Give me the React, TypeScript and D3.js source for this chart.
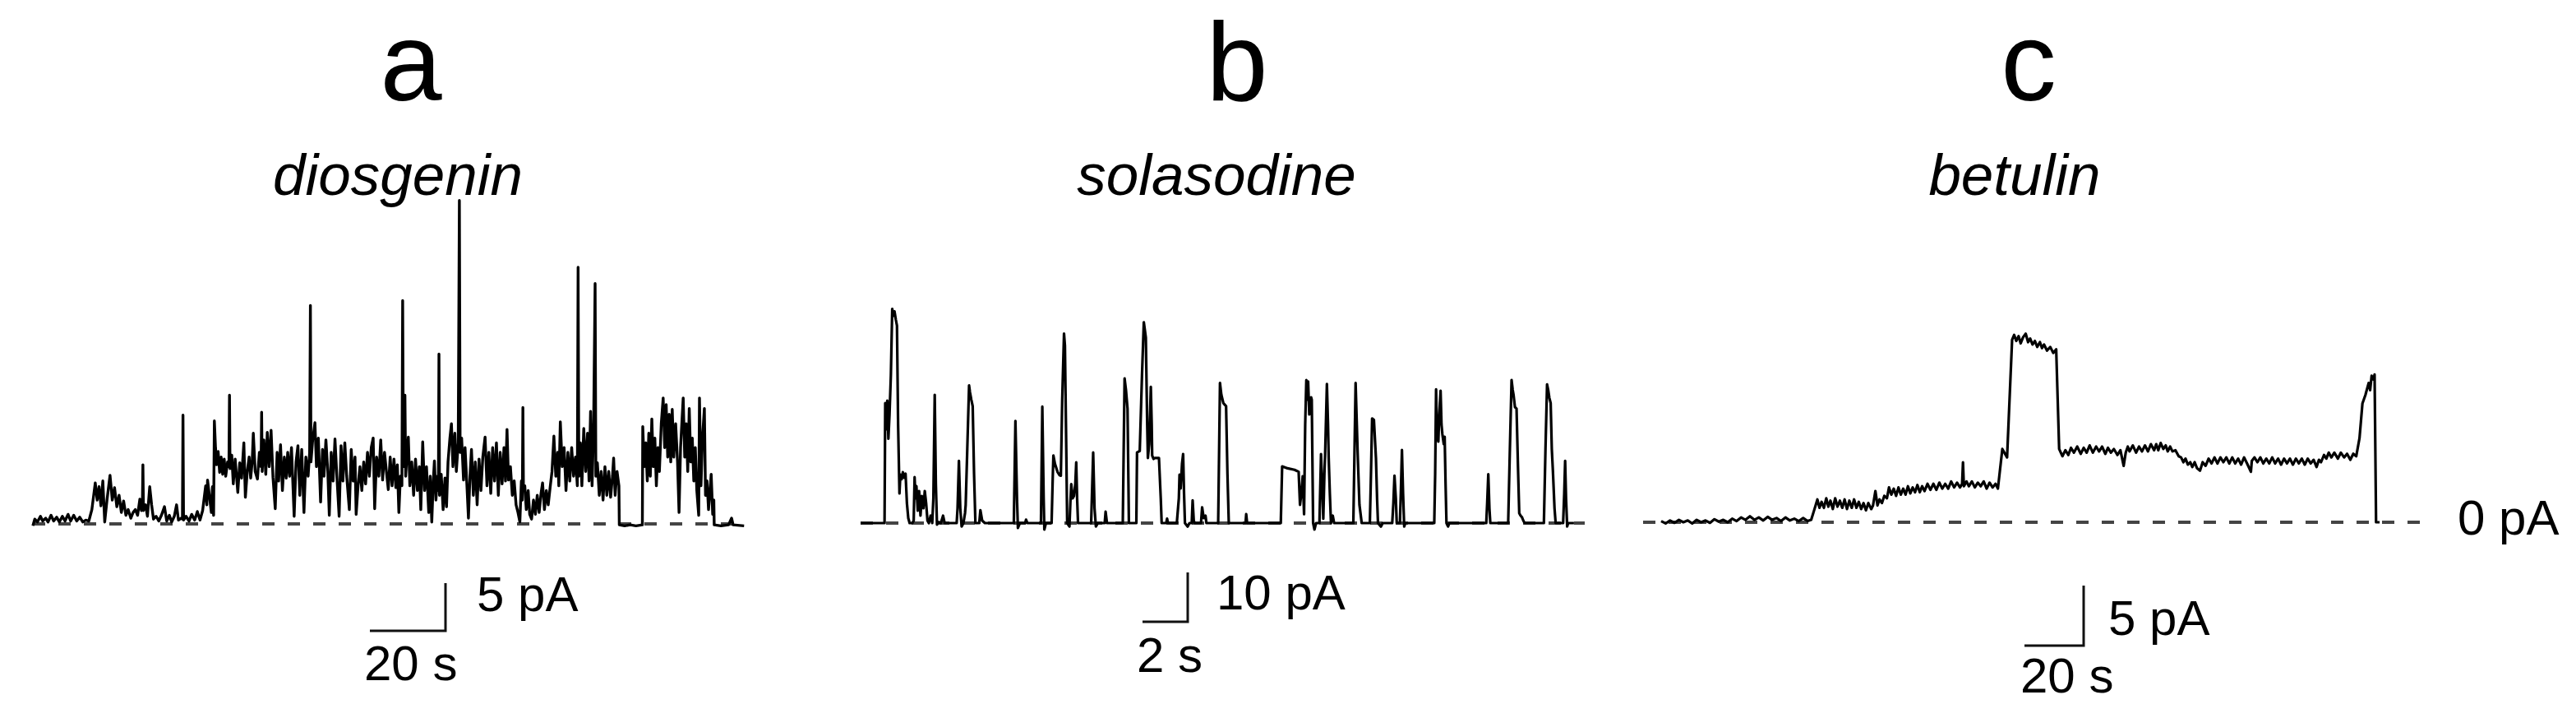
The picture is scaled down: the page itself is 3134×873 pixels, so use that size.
import React from "react";
import * as d3 from "d3";

const width = 3134;
const height = 873;

// traces: [time (s), current (pA)]
const diosgeninTrace: [number, number][] = [
  [0, -0.2], [0.5, 0.5], [1.2, 0.2], [2, 0.8], [2.6, 0.3], [3.4, 0.6], [4, 0.2], [4.8, 0.9], [5.5, 0.3],
  [6.3, 0.7], [7, 0.2], [7.8, 0.8], [8.5, 0.3], [9.3, 1.0], [10, 0.3], [10.8, 0.9], [11.6, 0.3], [12.4, 0.7],
  [13.2, 0.2], [14, 0.4], [14.8, 0.3], [15.6, 1.5], [16.5, 4.3], [17.0, 2.5], [17.5, 3.9], [18.0, 1.9],
  [18.5, 4.5], [19.0, 0.2], [19.6, 2.5], [20.4, 5.1], [21.0, 2.5], [21.6, 3.8], [22.2, 1.8], [22.8, 3.0],
  [23.4, 1.2], [24.0, 2.4], [24.6, 0.9], [25.2, 1.5], [25.9, 0.6], [26.5, 1.2], [27.1, 1.5], [27.7, 0.9],
  [28.3, 2.6], [28.7, 1.4], [28.95, 1.6], [29.1, 6.2], [29.25, 1.4], [29.8, 2.0], [30.3, 0.8], [30.9, 3.9],
  [31.4, 2.0], [31.9, 0.5], [32.6, 0.8], [33.3, 0.3], [34.0, 0.9], [34.8, 1.8], [35.4, 0.3], [36.1, 0.9],
  [36.7, 0.2], [37.4, 0.8], [38.0, 2.0], [38.5, 0.4], [39.2, 0.6], [39.55, 0.5], [39.7, 11.4], [39.85, 0.4],
  [40.5, 0.8], [41.3, 0.3], [42.0, 1.0], [42.8, 0.4], [43.5, 1.3], [44.2, 0.4], [44.9, 1.4], [45.7, 4.0],
  [46.0, 2.0], [46.2, 4.6], [46.7, 2.9], [47.2, 1.2], [47.5, 3.9], [47.8, 0.9], [48.0, 10.8], [48.3, 8.0],
  [48.6, 6.2], [49.0, 7.6], [49.4, 5.4], [49.8, 7.0], [50.2, 5.2], [50.6, 6.8], [51.0, 5.0], [51.5, 6.5],
  [51.85, 6.0], [52.0, 13.5], [52.15, 5.8], [52.6, 7.2], [53.0, 4.2], [53.5, 6.8], [54.2, 3.3], [54.7, 6.4],
  [55.2, 4.8], [55.8, 8.5], [56.2, 2.8], [56.7, 5.5], [57.2, 7.0], [57.6, 4.8], [58.0, 6.5], [58.3, 9.5],
  [58.8, 5.5], [59.4, 4.7], [59.9, 7.5], [60.35, 6.0], [60.5, 11.7], [60.65, 5.5], [61.1, 8.8], [61.6, 5.2],
  [62.0, 9.6], [62.5, 6.0], [63.0, 9.8], [63.5, 4.9], [64.1, 1.6], [64.6, 7.5], [65.0, 4.5], [65.5, 8.3],
  [66.0, 3.5], [66.5, 7.0], [67.0, 4.8], [67.4, 7.5], [67.9, 5.0], [68.4, 8.0], [69.1, 0.8], [69.6, 6.5],
  [70.1, 8.2], [70.6, 3.0], [71.1, 7.8], [71.7, 1.2], [72.2, 7.0], [72.8, 5.0], [73.2, 7.5], [73.4, 22.9],
  [73.55, 6.5], [74.0, 8.8], [74.6, 10.6], [75.0, 6.0], [75.5, 9.0], [76.1, 2.3], [76.6, 7.8], [77.0, 5.0],
  [77.5, 8.8], [78.0, 5.5], [78.4, 0.9], [78.9, 7.5], [79.4, 4.5], [79.9, 8.9], [80.4, 5.0], [81.0, 0.8],
  [81.5, 8.2], [82.0, 4.5], [82.5, 8.5], [83.0, 5.0], [83.7, 1.5], [84.2, 7.8], [84.7, 4.5], [85.2, 7.0],
  [85.5, 1.0], [86.0, 4.0], [86.5, 6.0], [87.0, 3.5], [87.5, 6.5], [88.0, 4.2], [88.5, 7.5], [89.0, 5.0],
  [89.5, 8.0], [90.0, 9.0], [90.4, 1.6], [90.9, 7.0], [91.5, 5.0], [92.0, 8.8], [92.5, 4.6], [93.0, 7.5],
  [93.5, 5.5], [94.0, 3.6], [94.5, 7.0], [95.0, 4.0], [95.5, 6.8], [96.0, 3.8], [96.4, 6.2], [96.8, 1.2],
  [97.2, 5.0], [97.6, 4.0], [97.8, 23.4], [98.0, 6.0], [98.4, 13.5], [98.6, 5.0], [98.9, 7.0], [99.3, 9.1],
  [99.7, 4.0], [100.2, 6.5], [100.7, 3.0], [101.2, 6.8], [101.7, 3.5], [102.2, 6.0], [102.6, 1.5], [103.1, 8.6],
  [103.6, 3.5], [104.1, 6.0], [104.7, 1.2], [105.1, 5.0], [105.5, 0.2], [105.9, 4.5], [106.2, 6.6], [106.6, 2.5],
  [107.0, 5.0], [107.25, 3.5], [107.4, 17.8], [107.55, 3.0], [108.0, 5.2], [108.5, 1.5], [109.0, 4.8],
  [109.4, 1.8], [109.8, 6.5], [110.3, 9.0], [110.7, 10.5], [111.1, 6.0], [111.6, 9.5], [112.0, 5.5],
  [112.5, 8.5], [112.8, 33.9], [113.0, 7.5], [113.4, 9.0], [113.9, 4.6], [114.3, 8.0], [114.8, 4.0],
  [115.2, 0.6], [115.6, 5.0], [116.0, 7.8], [116.5, 3.0], [117.0, 6.5], [117.5, 2.0], [118.0, 6.8],
  [118.5, 3.5], [119.0, 7.0], [119.6, 9.1], [120.1, 4.0], [120.6, 7.5], [121.1, 3.2], [121.6, 8.0],
  [122.1, 4.5], [122.6, 8.5], [123.1, 3.0], [123.6, 7.5], [124.1, 4.2], [124.6, 8.0], [125.0, 4.5],
  [125.4, 9.9], [125.8, 4.6], [126.3, 6.0], [126.8, 3.0], [127.3, 4.5], [127.8, 2.0], [128.3, 1.2],
  [128.8, 0.2], [129.2, 4.5], [129.45, 2.5], [129.6, 12.2], [129.75, 3.5], [130.1, 4.0], [130.5, 1.5],
  [131.0, 3.5], [131.4, 1.0], [131.9, 0.5], [132.4, 2.5], [132.9, 1.0], [133.4, 3.0], [133.9, 1.2],
  [134.4, 3.2], [134.8, 4.3], [135.3, 1.5], [135.8, 3.5], [136.3, 2.0], [136.8, 3.8], [137.3, 5.5],
  [137.8, 9.2], [138.3, 5.0], [138.8, 7.5], [139.1, 4.0], [139.5, 10.7], [140.0, 6.0], [140.5, 8.0],
  [141.0, 3.5], [141.5, 7.5], [142.0, 4.5], [142.5, 8.0], [143.0, 5.0], [143.5, 7.0], [144.0, 4.0],
  [144.2, 26.9], [144.4, 5.0], [144.8, 8.5], [145.2, 4.0], [145.7, 10.0], [146.2, 5.5], [146.7, 9.5],
  [147.1, 4.5], [147.5, 11.8], [147.9, 4.0], [148.3, 10.0], [148.7, 25.2], [148.9, 5.0], [149.3, 6.4],
  [149.8, 3.0], [150.3, 5.5], [150.8, 2.5], [151.3, 6.0], [151.8, 3.0], [152.3, 5.5], [152.8, 2.8],
  [153.3, 5.0], [153.6, 6.9], [154.0, 3.0], [154.5, 5.5], [155.0, 4.0], [155.1, -0.1], [156.5, -0.2],
  [158, -0.1], [159.5, -0.2], [161.2, -0.1], [161.3, 10.2], [161.7, 6.0], [162.1, 8.5], [162.5, 4.5],
  [162.9, 9.5], [163.3, 5.0], [163.7, 11.0], [164.1, 6.0], [164.5, 9.0], [164.9, 4.0], [165.3, 8.0],
  [165.7, 5.5], [166.2, 10.5], [166.7, 13.2], [167.1, 8.0], [167.5, 12.5], [167.9, 7.0], [168.3, 11.5],
  [168.7, 6.5], [169.1, 12.0], [169.5, 7.0], [170.0, 10.5], [170.5, 6.5], [170.9, 1.2], [171.3, 8.0],
  [171.7, 11.0], [172.0, 13.2], [172.4, 7.0], [172.8, 10.5], [173.2, 5.5], [173.6, 12.1], [174.0, 6.5],
  [174.4, 9.0], [174.8, 4.5], [175.2, 8.0], [175.6, 3.5], [176.1, 0.9], [176.3, 13.2], [176.7, 4.0],
  [177.1, 9.0], [177.6, 12.1], [177.9, 3.0], [178.3, 4.5], [178.7, 1.5], [179.1, 3.5], [179.4, 5.2],
  [179.8, 1.0], [180.1, 2.5], [180.2, -0.1], [182, -0.2], [184, -0.1], [184.8, 0.6], [185.2, -0.1],
  [188.1, -0.2],
];

const solasodineTrace: [number, number][] = [
  [0, 0], [1.06, 0], [1.09, 24.3], [1.14, 19], [1.18, 24.8], [1.23, 17.1], [1.28, 22], [1.34, 30],
  [1.4, 43.4], [1.45, 42], [1.5, 42.9], [1.56, 41.2], [1.61, 40], [1.66, 20], [1.72, 6], [1.76, 9.8],
  [1.82, 8.9], [1.87, 10.3], [1.93, 9.2], [1.99, 10], [2.05, 4], [2.11, 1], [2.17, 0], [2.29, 0],
  [2.35, 0.5], [2.39, 9.3], [2.43, 5], [2.47, 7.5], [2.53, 2.5], [2.59, 6.5], [2.65, 1.5], [2.71, 5.5],
  [2.78, 3], [2.84, 6.5], [2.9, 4], [2.96, 0.5], [3.02, 0], [3.1, 1.5], [3.17, 0], [3.22, 5], [3.28, 26],
  [3.33, 8], [3.38, -0.3], [3.45, 0.2], [3.55, 0], [3.65, 1.5], [3.72, 0], [4.25, 0], [4.29, 3],
  [4.35, 12.6], [4.41, 3], [4.47, -0.7], [4.55, 0], [4.62, 2], [4.65, 3.7], [4.72, 15], [4.8, 27.9],
  [4.84, 26.5], [4.9, 25], [4.96, 23.7], [5.02, 10], [5.08, 0], [5.25, 0], [5.3, 2.6], [5.38, 0.5],
  [5.5, 0], [6.78, 0], [6.85, 20.7], [6.92, 5], [6.96, -1], [7.05, 0], [7.28, 0], [7.32, 0.7], [7.38, 0],
  [7.98, 0], [8.04, 23.6], [8.1, 5], [8.13, -1.3], [8.2, 0], [8.45, 0], [8.5, 9], [8.53, 13.7], [8.6, 12],
  [8.71, 10.4], [8.8, 9.7], [8.86, 9.6], [8.92, 25], [9.0, 38.4], [9.04, 36], [9.1, 15], [9.14, 0],
  [9.24, -0.7], [9.28, 4], [9.32, 7.9], [9.38, 5], [9.44, 5.5], [9.5, 8], [9.54, 12.3], [9.58, 5],
  [9.62, 0], [10.2, 0], [10.29, 14.3], [10.35, 3], [10.41, -0.7], [10.5, 0], [10.8, 0], [10.84, 2.3],
  [10.9, 0], [11.6, 0], [11.64, 15], [11.68, 29.3], [11.74, 27], [11.81, 23.2], [11.85, 8], [11.87, 0],
  [12.2, 0], [12.23, 14.3], [12.35, 14.6], [12.45, 30], [12.53, 40.7], [12.58, 39], [12.62, 37.6],
  [12.68, 20], [12.71, 13.2], [12.77, 16], [12.84, 27.6], [12.88, 20], [12.9, 13.7], [12.96, 13],
  [13.02, 13.2], [13.2, 13.2], [13.28, 5], [13.32, 0], [13.52, 0], [13.56, 0.9], [13.6, 0], [13.99, 0],
  [14.08, 5], [14.11, 9.8], [14.16, 7], [14.22, 12], [14.27, 14], [14.31, 6], [14.35, 0], [14.47, -0.7],
  [14.55, 0], [14.65, 0], [14.69, 4.6], [14.74, 0.5], [14.78, 0], [15.06, 0], [15.11, 3.2], [15.18, 1],
  [15.26, 1.5], [15.3, 0], [15.82, 0], [15.9, 28.4], [15.96, 26], [16.05, 24.3], [16.17, 23.7],
  [16.23, 10], [16.29, 0], [17.03, 0], [17.06, 1.8], [17.1, 0], [18.59, 0], [18.65, 11.5], [18.89, 11.1],
  [19.2, 10.8], [19.38, 10.4], [19.44, 3.7], [19.5, 6], [19.56, 9.5], [19.62, 1.8], [19.67, 20],
  [19.72, 29], [19.76, 25], [19.8, 28.7], [19.85, 22], [19.89, 22.3], [19.93, 25.5], [19.96, 25],
  [20.02, 0], [20.08, -1.3], [20.15, 0], [20.3, 0], [20.37, 14], [20.42, 8], [20.47, 0.9], [20.52, 10],
  [20.55, 13.7], [20.63, 28.2], [20.68, 20], [20.71, 13.2], [20.76, 6], [20.81, 0], [20.89, 1.5],
  [20.95, 0], [21.8, 0], [21.9, 28.4], [21.99, 14.3], [22.07, 3.7], [22.17, 0], [22.53, 0], [22.58, 10],
  [22.63, 21.2], [22.71, 20.9], [22.8, 13.2], [22.85, 5], [22.89, 0], [23.02, -0.7], [23.1, 0],
  [23.52, 0], [23.57, 4], [23.62, 9.6], [23.68, 5], [23.72, 0], [23.86, 0], [23.9, 6], [23.95, 14.8],
  [24.0, 6], [24.05, -0.7], [24.1, 0], [25.38, 0], [25.42, 10], [25.46, 27.1], [25.5, 18], [25.56, 16.5],
  [25.6, 22], [25.66, 26.8], [25.7, 20], [25.74, 18], [25.8, 16], [25.84, 17.5], [25.88, 8], [25.92, 0],
  [25.99, -0.7], [26.05, 0], [27.68, 0], [27.72, 4], [27.77, 9.9], [27.82, 3], [27.86, 0], [28.65, 0],
  [28.72, 14], [28.8, 29], [28.85, 27], [28.89, 25.9], [28.95, 23.5], [29.02, 23.2], [29.08, 12],
  [29.14, 2], [29.2, 1.5], [29.26, 1.2], [29.32, 0.5], [29.38, 0], [30.23, 0], [30.3, 15], [30.37, 28.1],
  [30.42, 27], [30.47, 25.4], [30.53, 24.3], [30.58, 15], [30.63, 10.4], [30.7, 3], [30.75, 0],
  [31.08, 0], [31.13, 6], [31.17, 12.6], [31.21, 5], [31.26, -0.7], [31.3, 0], [31.56, 0],
];

const betulinTrace: [number, number][] = [
  [0, 0.1], [1.5, -0.1], [3, 0.15], [4.5, -0.05], [6, 0.2], [7.5, 0.0], [9, 0.15], [10.5, -0.1], [12, 0.2],
  [13.5, 0.0], [15, 0.15], [16.5, -0.05], [18, 0.25], [19.5, 0.05], [21, 0.2], [22.5, 0.0], [24, 0.3],
  [25.5, 0.1], [27, 0.4], [28.5, 0.2], [30, 0.5], [31.5, 0.2], [33, 0.4], [34.5, 0.15], [36, 0.45],
  [37.5, 0.2], [39, 0.35], [40.5, 0.1], [42, 0.4], [43.5, 0.15], [45, 0.3], [46.5, 0.1], [48, 0.35],
  [49.5, 0.1], [50.7, 0.2], [51.7, 1.0], [52.8, 1.9], [53.5, 1.2], [54.2, 1.7], [55, 1.2], [55.8, 2.0],
  [56.5, 1.3], [57.2, 1.8], [58, 1.1], [58.8, 2.0], [59.6, 1.3], [60.4, 1.8], [61.2, 1.2], [62, 1.9],
  [62.8, 1.1], [63.6, 1.8], [64.4, 1.2], [65.2, 1.9], [66, 1.2], [66.8, 1.7], [67.6, 1.1], [68.4, 1.6],
  [69.2, 1.0], [70, 1.6], [71, 1.1], [71.6, 1.4], [72.4, 2.6], [73.1, 1.4], [73.8, 1.9], [74.6, 1.6],
  [75.4, 2.2], [76.3, 2.0], [77, 2.9], [77.8, 2.3], [78.6, 2.8], [79.4, 2.2], [80.2, 2.9], [81, 2.3],
  [81.8, 2.8], [82.6, 2.3], [83.4, 3.0], [84.2, 2.4], [85, 2.9], [85.8, 2.5], [86.6, 3.1], [87.4, 2.5],
  [88.2, 3.0], [89, 2.6], [90, 3.2], [91, 2.7], [92, 3.2], [93, 2.7], [94, 3.3], [95, 2.8], [96, 3.2],
  [97, 2.8], [98, 3.4], [99, 2.9], [100, 3.3], [101, 2.9], [101.7, 3.2], [102, 5.0], [102.3, 3.0],
  [103.2, 3.4], [104, 3.0], [105, 3.4], [106, 2.9], [107, 3.3], [108, 3.0], [109, 3.4], [110, 2.8],
  [111, 3.3], [112, 2.9], [113, 3.2], [113.8, 2.8], [115.3, 6.1], [116.9, 5.4], [118.6, 15.2], [119.3, 15.6],
  [120, 15.1], [120.8, 15.5], [121.5, 14.9], [122.3, 15.4], [123.2, 15.7], [124, 15.0], [124.7, 15.3],
  [125.5, 14.8], [126.3, 15.1], [127.1, 14.6], [128, 15.0], [128.7, 14.5], [129.4, 14.8], [130.4, 14.3],
  [131.5, 14.6], [132.5, 14.1], [133.5, 14.4], [134.5, 6.1], [135.6, 5.5], [136.6, 6.0], [137.6, 5.6],
  [138.5, 6.2], [139.5, 5.8], [140.6, 6.3], [141.8, 5.7], [142.8, 6.2], [143.8, 5.8], [144.8, 6.4],
  [145.9, 5.8], [147, 6.3], [148, 5.9], [149, 6.3], [150.1, 5.7], [151, 6.2], [152, 5.8], [153, 6.1],
  [154.2, 5.6], [155.2, 6.0], [156.3, 4.7], [157, 5.8], [157.7, 6.3], [158.3, 5.9], [159.4, 6.4],
  [160.5, 5.8], [161.5, 6.3], [162.5, 5.9], [163.5, 6.4], [164.5, 5.9], [165.5, 6.5], [166.6, 6.0],
  [167.3, 6.5], [168, 6.0], [168.8, 6.6], [169.7, 6.1], [170.5, 6.4], [171.2, 5.9], [172, 6.3],
  [172.8, 5.9], [173.8, 6.0], [174.9, 5.5], [175.7, 5.4], [176.5, 5.0], [177.2, 5.3], [178, 4.8],
  [178.8, 5.0], [179.5, 4.6], [180.3, 5.0], [181.1, 4.5], [182.1, 4.3], [183, 5.0], [184, 4.7],
  [185, 5.3], [186, 4.9], [187, 5.4], [188, 4.9], [189, 5.4], [190, 5.0], [191, 5.4], [192, 4.9],
  [193, 5.4], [194, 4.9], [195, 5.3], [196, 4.8], [197, 5.4], [198, 4.9], [199.3, 4.2], [199.6, 5.1],
  [200.5, 5.4], [201.5, 5.0], [202.5, 5.4], [203.5, 4.9], [204.5, 5.3], [205.5, 4.9], [206.5, 5.4],
  [207.5, 4.9], [208.5, 5.3], [209.5, 4.8], [210.5, 5.3], [211.5, 4.9], [212.5, 5.3], [213.5, 4.8],
  [214.5, 5.3], [215.5, 4.9], [216.5, 5.3], [217.5, 4.8], [218.5, 5.3], [219.5, 4.9], [220.5, 5.2],
  [221.5, 4.6], [222.3, 5.2], [223, 5.0], [224, 5.6], [224.8, 5.3], [225.6, 5.8], [226.5, 5.4],
  [227.5, 5.8], [228.7, 5.3], [229.7, 5.8], [230.8, 5.4], [231.8, 5.7], [232.9, 5.2], [233.9, 5.7],
  [234.9, 5.5], [236, 7.0], [237, 9.9], [238, 10.6], [239.1, 11.6], [239.6, 11.0], [240.1, 12.2],
  [240.7, 11.9], [241.1, 12.3], [241.6, 0.0], [242.8, 0.0],
];

const panelLetters = ["a", "b", "c"];
const compounds = ["diosgenin", "solasodine", "betulin"];
const timeBars = [20, 2, 20]; // s
const currentBars = [5, 10, 5]; // pA
const zeroLabel = "0 pA";

const traces = [diosgeninTrace, solasodineTrace, betulinTrace];

// placement of each panel on the page
const layout = [
  { x0: 40, pxPerS: 4.6, pxPerPA: 11.6, base: 637, dash: [40, 907], corner: [542, 767], titleX: 500, subX: 484, paAt: [580, 743], sAt: [443, 827], lw: 3.4 },
  { x0: 1047, pxPerS: 27.5, pxPerPA: 6, base: 636, dash: [1047, 1928], corner: [1445, 756], titleX: 1505, subX: 1480, paAt: [1480, 741], sAt: [1383, 817], lw: 3.2 },
  { x0: 2021, pxPerS: 3.6, pxPerPA: 14.6, base: 635, dash: [1999, 2952], corner: [2535, 785], titleX: 2468, subX: 2451, paAt: [2565, 772], sAt: [2458, 842], lw: 3.2 },
];

const font = "'Liberation Sans', Arial, Helvetica, sans-serif";

export default function App() {
  return (
    <svg
      width={width}
      height={height}
      style={{ position: "absolute", left: 0, top: 0, background: "#fff" }}
      fontFamily={font}
    >
      {layout.map((p, i) => {
        const data = traces[i];
        const tEnd = d3.max(data, d => d[0]) as number;
        const x = d3.scaleLinear().domain([0, tEnd]).range([p.x0, p.x0 + tEnd * p.pxPerS]);
        const y = d3.scaleLinear().domain([0, 1]).range([p.base, p.base - p.pxPerPA]);
        const line = d3
          .line<[number, number]>()
          .x(d => x(d[0]))
          .y(d => y(d[1]));
        const barW = x(timeBars[i]) - x(0);
        const barH = y(0) - y(currentBars[i]);
        const [cx, cy] = p.corner;
        return (
          <g key={i}>
            <text x={p.titleX} y={122} fontSize={135} textAnchor="middle">
              {panelLetters[i]}
            </text>
            <text x={p.subX} y={237} fontSize={71} fontStyle="italic" textAnchor="middle">
              {compounds[i]}
            </text>
            <line
              x1={p.dash[0]}
              x2={p.dash[1]}
              y1={y(0)}
              y2={y(0)}
              stroke="#444"
              strokeWidth={4}
              strokeDasharray="15 16"
            />
            <path
              d={line(data) || ""}
              fill="none"
              stroke="#000"
              strokeWidth={p.lw}
              strokeLinejoin="round"
            />
            <path
              d={`M${cx - barW},${cy}H${cx}V${cy - barH}`}
              fill="none"
              stroke="#111"
              strokeWidth={3}
            />
            <text x={p.paAt[0]} y={p.paAt[1]} fontSize={60}>
              {currentBars[i]} pA
            </text>
            <text x={p.sAt[0]} y={p.sAt[1]} fontSize={60}>
              {timeBars[i]} s
            </text>
          </g>
        );
      })}
      <text x={2990} y={650} fontSize={60}>
        {zeroLabel}
      </text>
    </svg>
  );
}
